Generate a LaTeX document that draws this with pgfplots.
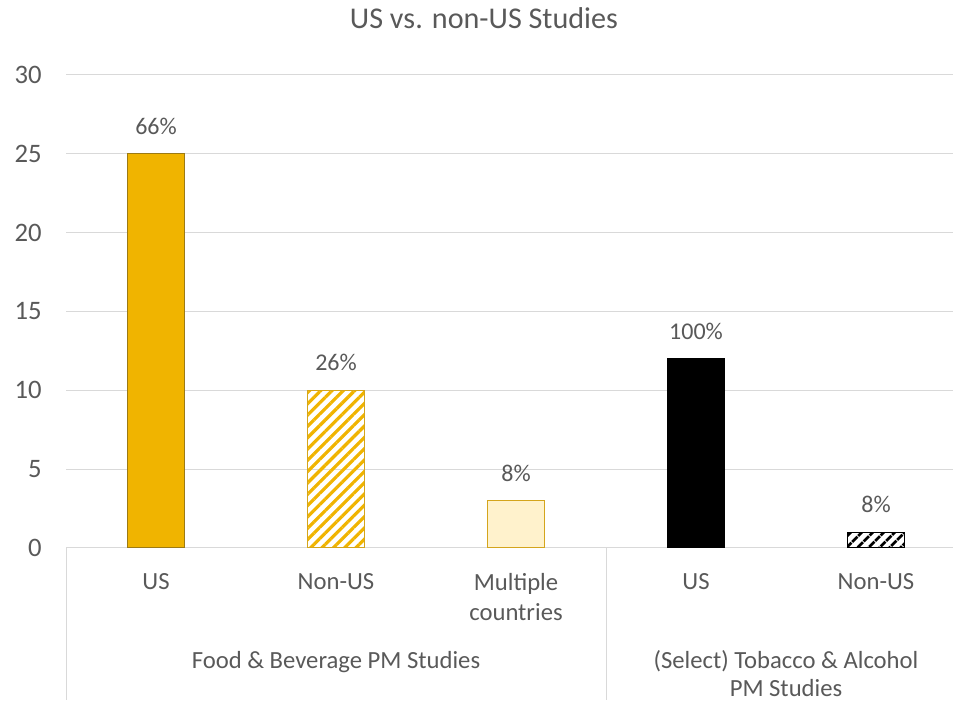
\documentclass[border=0pt]{standalone}
\usepackage{pgfplots}
\pgfplotsset{compat=1.18}
\usepackage{fontspec}
\setmainfont{Carlito}
\usetikzlibrary{patterns.meta}
\definecolor{gold}{HTML}{F0B400}
\definecolor{golddark}{HTML}{9C7A14}
\definecolor{goldedge}{HTML}{D4A51C}
\definecolor{goldlight}{HTML}{FFF2CC}
\definecolor{txt}{HTML}{595959}
\definecolor{gridc}{HTML}{D9D9D9}
\begin{document}
\begin{tikzpicture}
\begin{axis}[
  at={(49.5pt,114pt)}, anchor=south west,
  scale only axis, width=675pt, height=354.75pt,
  xmin=-0.5, xmax=4.5, ymin=0, ymax=30,
  ytick={0,5,...,30},
  ymajorgrids, grid style={gridc, line width=0.75pt},
  axis line style={draw=none},
  tick style={draw=none}, major tick length=0pt,
  xtick={0,...,4},
  xticklabels={US, Non-US, Multiple\\countries, US, Non-US},
  xticklabel style={align=center, anchor=north, inner sep=0pt, yshift=-18.75pt,
    font=\fontsize{18.5}{22.5}\selectfont, text=txt},
  yticklabel style={anchor=east, inner sep=0pt, xshift=-18pt,
    font=\fontsize{20}{24}\selectfont, text=txt},
  /pgf/number format/assume math mode=true,
  clip=false,
  nodes near coords,
  point meta=explicit symbolic,
  nodes near coords style={font=\fontsize{18}{22}\selectfont, text=txt, anchor=south, inner sep=0pt, yshift=14pt},
]
\addplot[ybar, bar width=42.75pt, bar shift=0pt, fill=gold, draw=golddark, line width=0.75pt]
  coordinates {(0,25) [66\%]};
\addplot[ybar, bar width=42.75pt, bar shift=0pt, draw=goldedge, line width=0.75pt,
  pattern={Lines[angle=45, distance=6pt, line width=2.4pt]}, pattern color=gold]
  coordinates {(1,10) [26\%]};
\addplot[ybar, bar width=42.75pt, bar shift=0pt, fill=goldlight, draw=goldedge, line width=0.75pt]
  coordinates {(2,3) [8\%]};
\addplot[ybar, bar width=42.75pt, bar shift=0pt, fill=black, draw=black, line width=0.75pt]
  coordinates {(3,12) [100\%]};
\addplot[ybar, bar width=42.75pt, bar shift=0pt, draw=black, line width=0.75pt,
  pattern={Lines[angle=45, distance=6.5pt, line width=2.4pt]}, pattern color=black]
  coordinates {(4,1) [8\%]};
\end{axis}
\draw[gridc, line width=0.75pt] (49.5pt,114pt) -- (49.5pt,0pt);
\draw[gridc, line width=0.75pt] (454.5pt,114pt) -- (454.5pt,0pt);
\node[font=\fontsize{22.6}{27}\selectfont, text=txt, anchor=base] at (363pt,503.25pt) {US vs. non-US Studies};
\node[font=\fontsize{18.5}{22.5}\selectfont, text=txt, anchor=base] at (252pt,24pt) {Food \& Beverage PM Studies};
\node[font=\fontsize{18.5}{22.5}\selectfont, text=txt, anchor=base] at (589.5pt,24pt) {(Select) Tobacco \& Alcohol};
\node[font=\fontsize{18.5}{22.5}\selectfont, text=txt, anchor=base] at (589.5pt,3pt) {PM Studies};
\pgfresetboundingbox
\useasboundingbox (0,0) rectangle (714.75pt,525pt);
\end{tikzpicture}
\end{document}
